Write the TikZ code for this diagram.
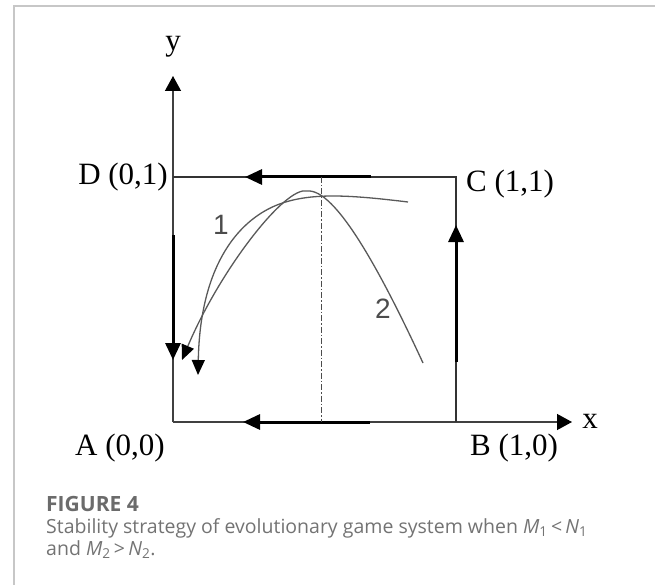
\documentclass[tikz,border=0pt]{standalone}
\usepackage{fontspec}
\setmainfont{Liberation Serif}
\newfontfamily\capfont{Open Sans}
\newfontfamily\numfont{Liberation Sans}
\usetikzlibrary{arrows.meta}

\tikzset{
  axis/.style={line width=1.3pt,black!75,-{Triangle[length=15pt,width=16pt,black]}},
  edge/.style={line width=1.2pt,black!80},
  flow/.style={line width=3pt,black,-{Triangle[length=17pt,width=15pt]}},
  traj/.style={line width=1.3pt,black!65,-{Triangle[length=15pt,width=13pt,black]}},
  corner/.style={font=\fontsize{31}{31}\selectfont,inner sep=0pt},
  curvelabel/.style={font=\numfont\fontsize{28}{28}\selectfont,black!70,inner sep=0pt},
  captext/.style={anchor=base west,inner sep=0pt,text=black!55,font=\capfont\fontsize{19.5}{22}\selectfont},
}

\begin{document}
\begin{tikzpicture}[x=1pt,y=-1pt]
		\useasboundingbox (0,0) rectangle (655,585);
		% page frame
		\draw[black!22,line width=1.2pt] (14,585) -- (14,6) -- (655,6);
		% corners of the square
		\coordinate (A) at (173,422);
		\coordinate (B) at (456,422);
		\coordinate (C) at (456,177);
		\coordinate (D) at (173,177);
		\coordinate (xend) at (572,422);
		\coordinate (yend) at (173,76);
		\draw[axis] (A) -- (xend);
		\draw[axis] (A) -- (yend);
		\node[corner] (xlab) at (590,421) {x};
		\node[corner] (ylab) at (173,47) {y};
		\draw[edge] (D) -- (C) -- (B);
		\node[corner,anchor=east] (Dlab) at (168,177) {D (0,1)};
		\node[corner,anchor=west] (Clab) at (466,184) {C (1,1)};
		\node[corner] (Alab) at (120,448) {A (0,0)};
		\node[corner] (Blab) at (514,448) {B (1,0)};
		% phase flows on the edges
		\coordinate (ts) at (371,177); \coordinate (te) at (245,177);
		\coordinate (bs) at (370,422); \coordinate (be) at (243,422);
		\coordinate (rs) at (456,362); \coordinate (re) at (456,225);
		\coordinate (ls) at (173,235); \coordinate (le) at (173,360);
		\draw[flow] (ts) -- (te);
		\draw[flow] (bs) -- (be);
		\draw[flow] (rs) -- (re);
		\draw[flow] (ls) -- (le);
		% saddle line
		\coordinate (mt) at (321,177); \coordinate (mb) at (321,422);
		\draw[black!70,line width=0.9pt,dash pattern=on 6pt off 2pt on 1.5pt off 2pt] (mt) -- (mb);
		% trajectories
		\coordinate (p1) at (408,202); \coordinate (q1) at (277,205); \coordinate (e1) at (198,375);
		\draw[traj] (p1) .. controls (350,195) and (310,192) .. (q1)
			.. controls (235,222) and (200,270) .. (e1);
		\coordinate (p2) at (423,363); \coordinate (q2) at (307,191); \coordinate (e2) at (182,360);
		\draw[traj] (p2) .. controls (380,270) and (335,188) .. (q2)
			.. controls (285,186) and (220,270) .. (e2);
		\node[curvelabel] (one) at (221,225) {1};
		\node[curvelabel] (two) at (383,309) {2};
		% caption
		\node[anchor=base west,inner sep=0pt,text=black!58,font=\capfont\bfseries\fontsize{21}{21}\selectfont] (fig) at (46,511) {FIGURE 4};
		\node[captext] (cap1) at (46,533)
			{Stability strategy of evolutionary game system when \textit{M}\textsubscript{1}\,<\,\textit{N}\textsubscript{1}};
		\node[captext] (cap2) at (46,555)
			{and \textit{M}\textsubscript{2}\,>\,\textit{N}\textsubscript{2}.};
	\end{tikzpicture}
\end{document}
